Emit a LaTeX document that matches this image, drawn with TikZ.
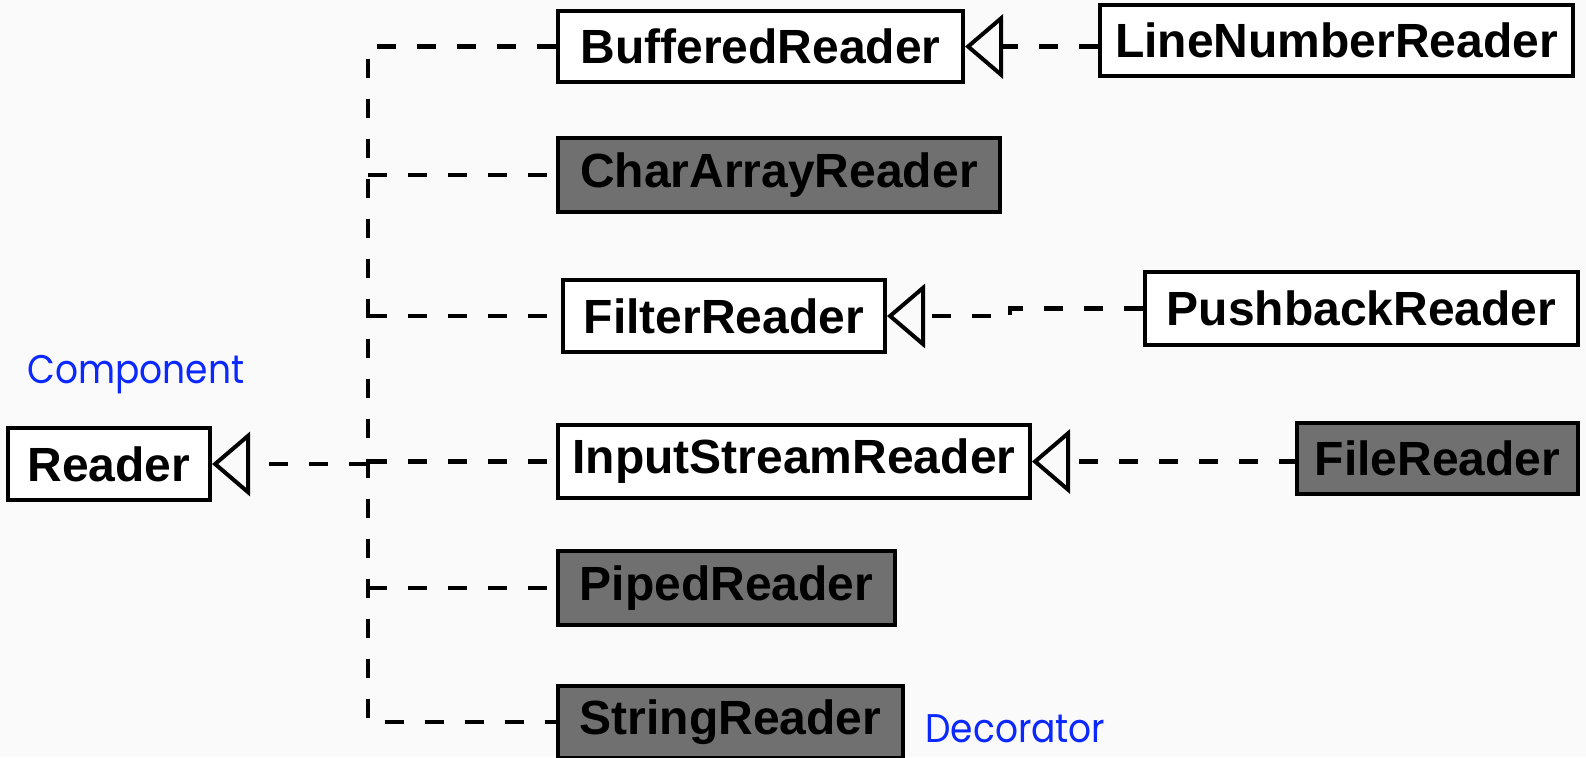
\documentclass[tikz,border=0pt]{standalone}
\usepackage{fontspec}
\setmainfont{Liberation Sans}
\newfontfamily\labelfont[FakeStretch=0.9]{Poppins}
\usetikzlibrary{arrows.meta}
\definecolor{bgcol}{RGB}{250,250,250}
\definecolor{concrete}{RGB}{112,112,112}
\definecolor{rolecol}{RGB}{10,40,255}
\tikzset{
  cls/.style={draw=black, line width=2pt, fill=white, inner sep=0pt,
    font=\fontsize{24}{28}\selectfont\bfseries, text=black},
  concretecls/.style={cls, fill=concrete},
  dep/.style={line width=2.2pt, dash pattern=on 9.5pt off 10.5pt},
  inherit/.style={dep, -{Triangle[open, length=19pt, width=32pt, line width=2pt]}},
  role/.style={font=\labelfont\fontsize{20}{24}\selectfont, text=rolecol, anchor=base west, inner sep=0pt}
}
\begin{document}
\begin{tikzpicture}[x=0.5pt, y=-0.5pt]
  \fill[bgcol] (0,0) rectangle (1586,757);
  \useasboundingbox (0,0) rectangle (1586,757);

  % class boxes
  \node[cls, minimum width=101pt, minimum height=36pt] (reader) at (109,464) {Reader};
  \node[cls, minimum width=202.5pt, minimum height=35.5pt] (buffered) at (760.5,46.5) {BufferedReader};
  \node[cls, minimum width=236.5pt, minimum height=35.5pt] (linenum) at (1336.5,40.5) {LineNumberReader};
  \node[concretecls, minimum width=221pt, minimum height=37pt] (chararray) at (779,175) {CharArrayReader};
  \node[cls, minimum width=161pt, minimum height=36pt] (filter) at (724,316) {FilterReader};
  \node[cls, minimum width=216.5pt, minimum height=36.5pt] (pushback) at (1361.5,308.5) {PushbackReader};
  \node[cls, minimum width=236pt, minimum height=36.5pt] (input) at (794,461.5) {InputStreamReader};
  \node[concretecls, minimum width=140.5pt, minimum height=35.5pt] (file) at (1437.5,458.5) {FileReader};
  \node[concretecls, minimum width=168.5pt, minimum height=37pt] (piped) at (726.5,588) {PipedReader};
  \node[concretecls, minimum width=172.5pt, minimum height=36pt] (string) at (730.5,722) {StringReader};

  % role labels
  \node[role] (component) at (27,383) {Component};
  \node[role] (decorator) at (925,742) {Decorator};

  % shared trunk of the Reader hierarchy
  \coordinate (trunk) at (368,0);
  \draw[dep] (buffered.west) -- (buffered.west -| trunk) -- (string.west -| trunk) -- (string.west);
  \draw[dep] (chararray.west -| trunk) -- (chararray.west);
  \draw[dep] (filter.west -| trunk) -- (filter.west);
  \draw[dep] (input.west -| trunk) -- (input.west);
  \draw[dep] (piped.west -| trunk) -- (piped.west);
  \draw[inherit] (reader.east -| trunk) -- (reader.east);

  % decorator subclasses
  \draw[inherit] (linenum.west |- buffered.east) -- (buffered.east);
  \coordinate (kink) at (1010,308.5);
  \draw[inherit] (pushback.west) -- (kink) |- (filter.east);
  \draw[inherit] (file.west) -- (file.west |- input.east) -- (input.east);
\end{tikzpicture}
\end{document}
